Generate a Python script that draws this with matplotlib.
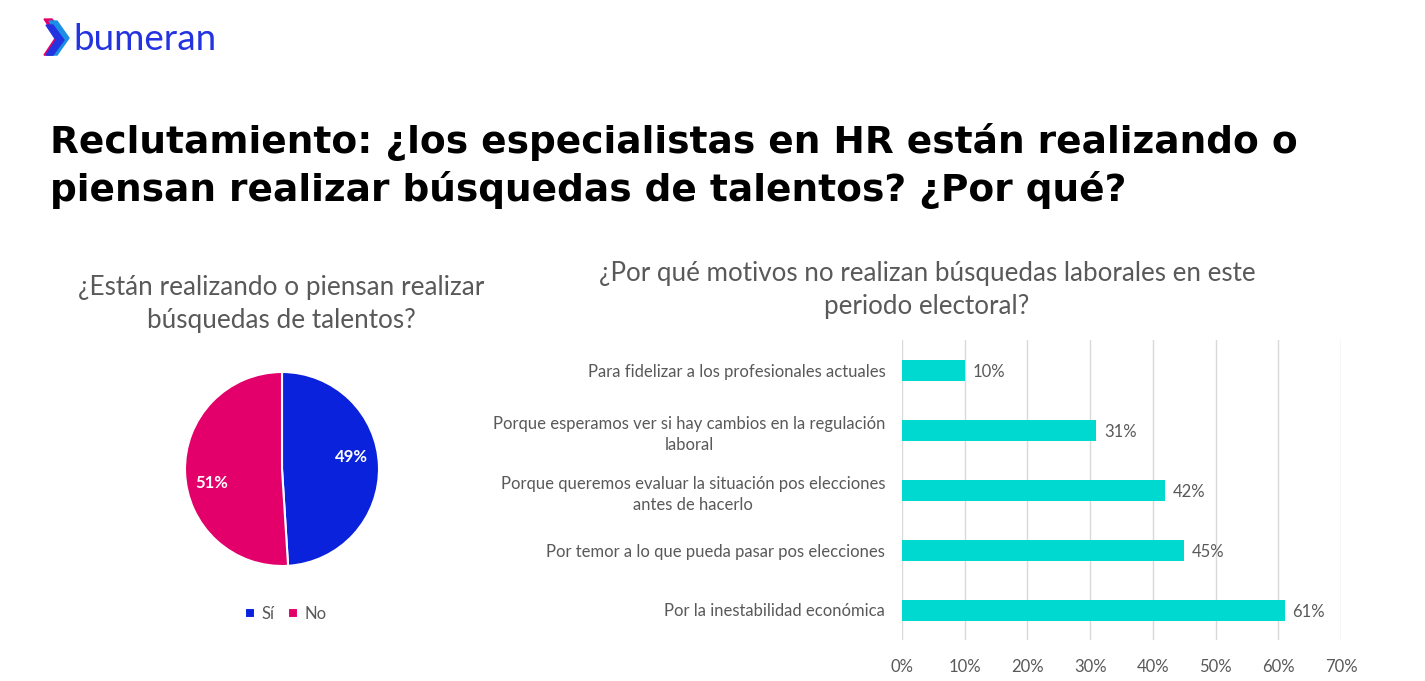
import matplotlib.pyplot as plt
from matplotlib.patches import Polygon

# Data
pie_labels = ["Sí", "No"]
pie_values = [49, 51]
pie_colors = ["#0A22DC", "#E3006B"]

reasons = [
    "Por la inestabilidad económica",
    "Por temor a lo que pueda pasar pos elecciones",
    "Porque queremos evaluar la situación pos elecciones\nantes de hacerlo",
    "Porque esperamos ver si hay cambios en la regulación\nlaboral",
    "Para fidelizar a los profesionales actuales",
]
reason_values = [61, 45, 42, 31, 10]
xticks = [0, 10, 20, 30, 40, 50, 60, 70]

gray = "#595959"
body_font = ["Lato", "DejaVu Sans"]

fig = plt.figure(figsize=(14.25, 6.81), dpi=100)

# Logo
logo = fig.add_axes([0.0, 0.9, 0.2, 0.1])
logo.set_xlim(0, 285)
logo.set_ylim(68, 0)
logo.axis("off")
logo.add_patch(Polygon([[44, 19], [52, 19], [66, 37], [52, 55], [44, 55], [56, 37]],
                       closed=True, color="#E3006B"))
logo.add_patch(Polygon([[49, 21], [57, 21], [69, 38], [57, 55], [49, 55], [60, 38]],
                       closed=True, color="#1B8FE8"))
logo.add_patch(Polygon([[46, 25], [53, 25], [64, 40], [53, 55], [46, 55], [56, 40]],
                       closed=True, color="#2433E0"))
logo.text(73, 39, "bumeran", color="#2433E0", fontsize=26.5, family=body_font,
          va="center", ha="left")

# Title
fig.text(50 / 1425, 1 - 166 / 681,
         "Reclutamiento: ¿los especialistas en HR están realizando o\n"
         "piensan realizar búsquedas de talentos? ¿Por qué?",
         fontsize=27, fontweight="bold", family="DejaVu Sans",
         color="black", ha="left", va="center", linespacing=1.35)

# Pie chart
ax_pie = fig.add_axes([185 / 1425, 1 - 566 / 681, 194 / 1425, 194 / 681])
wedges, texts, autotexts = ax_pie.pie(
    pie_values, colors=pie_colors, startangle=90, counterclock=False,
    autopct="%d%%", pctdistance=0.72,
    wedgeprops=dict(edgecolor="white", linewidth=1.5),
    textprops=dict(color="white", fontsize=12, fontweight="bold", family=body_font))
autotexts[0].set_y(autotexts[0].get_position()[1] + 0.1)
autotexts[1].set_y(autotexts[1].get_position()[1] - 0.12)
ax_pie.set_aspect("equal")
ax_pie.set_xlim(-1, 1)
ax_pie.set_ylim(-1, 1)

fig.text(281 / 1425, 1 - 304 / 681,
         "¿Están realizando o piensan realizar\nbúsquedas de talentos?",
         fontsize=18.8, color=gray, ha="center", va="center", family=body_font,
         linespacing=1.4)

fig.legend(wedges, pie_labels, loc="center", bbox_to_anchor=(286 / 1425, 1 - 614 / 681),
           ncol=2, frameon=False, handlelength=0.6, handleheight=0.6,
           handletextpad=0.4, columnspacing=0.8,
           prop=dict(family=body_font, size=12), labelcolor=gray)

# Bar chart
ax_bar = fig.add_axes([902 / 1425, 1 - 640 / 681, 439 / 1425, 300 / 681])
pos = range(len(reasons))
ax_bar.barh(pos, reason_values, height=0.35, color="#00D9D0", zorder=3)
for p, v in zip(pos, reason_values):
    ax_bar.text(v + 1.2, p - 0.03, f"{v}%", va="center", ha="left", fontsize=12,
                color=gray, family=body_font)
ax_bar.set_xlim(0, 70)
ax_bar.set_ylim(-0.5, len(reasons) - 0.5)
ax_bar.set_xticks(xticks)
ax_bar.set_xticklabels([f"{t}%" for t in xticks], fontsize=12, color=gray, family=body_font)
ax_bar.set_yticks(list(pos))
ax_bar.set_yticklabels(reasons, fontsize=12, color=gray, family=body_font,
                       multialignment="center", linespacing=1.45)
ax_bar.tick_params(axis="both", length=0)
ax_bar.tick_params(axis="x", pad=14)
ax_bar.tick_params(axis="y", pad=12)
ax_bar.grid(axis="x", color="#D9D9D9", linewidth=1, zorder=0)
for s in ax_bar.spines.values():
    s.set_visible(False)

fig.text(927 / 1425, 1 - 290 / 681,
         "¿Por qué motivos no realizan búsquedas laborales en este\nperiodo electoral?",
         fontsize=18.7, color=gray, ha="center", va="center", family=body_font,
         linespacing=1.4)

fig.savefig("out.png", dpi=100)
